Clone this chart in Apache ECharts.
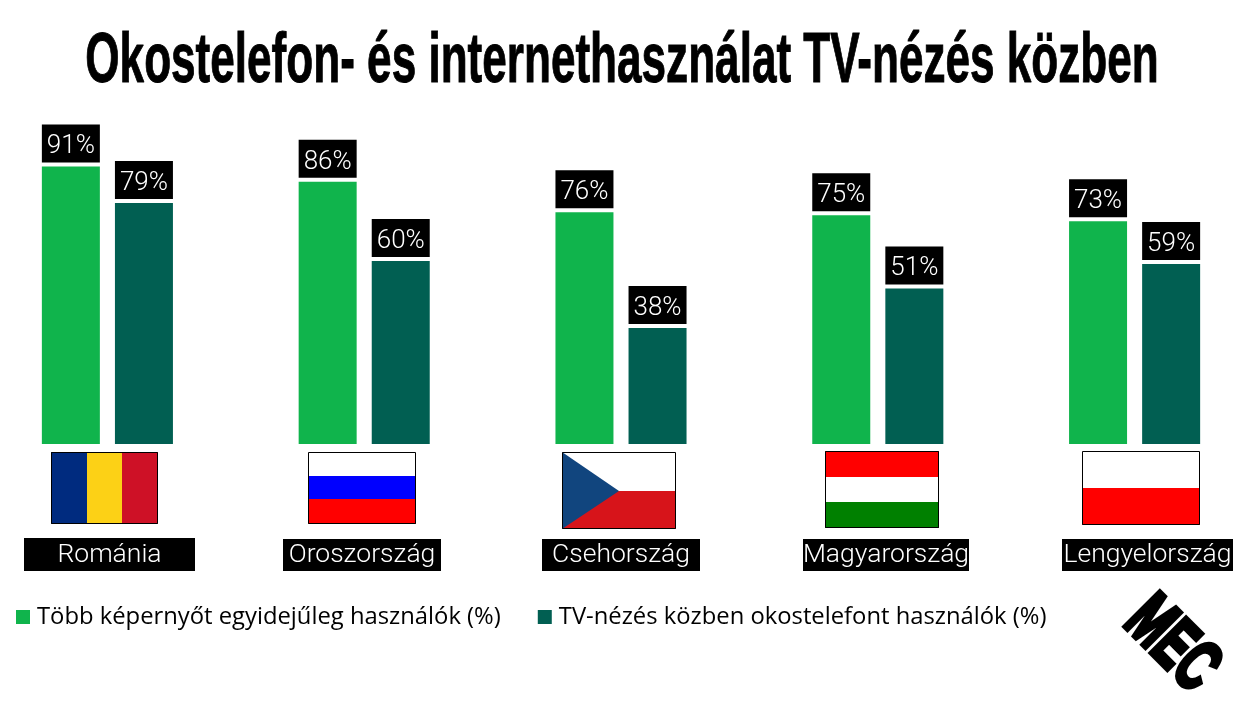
<!DOCTYPE html>
<html>
<head>
<meta charset="utf-8">
<title>Okostelefon- és internethasználat TV-nézés közben</title>
<script src="https://cdn.jsdelivr.net/npm/echarts@6/dist/echarts.min.js"></script>
<style>
  html, body { margin: 0; padding: 0; background: #fff; }
  #chart { width: 1247px; height: 705px; }
</style>
</head>
<body>
<div id="chart"></div>
<script>
const titleText = 'Okostelefon- és internethasználat TV-nézés közben'
const countries = ['Románia', 'Oroszország', 'Csehország', 'Magyarország', 'Lengyelország']
const multiScreen = [91, 86, 76, 75, 73]
const smartphone = [79, 60, 38, 51, 59]
const seriesNames = ['Több képernyőt egyidejűleg használók (%)', 'TV-nézés közben okostelefont használók (%)']
const logoText = 'MEC'

const GREEN = '#10b44c'
const TEAL = '#015f52'
const FONT = 'Roboto, sans-serif'

function rect (x1, y1, x2, y2, fill) {
  return { type: 'rect', silent: true, shape: { x: x1, y: y1, width: x2 - x1, height: y2 - y1 }, style: { fill: fill } }
}

function frame (x1, y1, x2, y2) {
  return { type: 'rect', silent: true, shape: { x: x1 + 0.5, y: y1 + 0.5, width: x2 - x1 - 1, height: y2 - y1 - 1 }, style: { fill: 'none', stroke: '#000', lineWidth: 1 } }
}

function flags () {
  return [
    // romania
    rect(51, 452, 87, 524, '#002b7f'),
    rect(87, 452, 122, 524, '#fcd116'),
    rect(122, 452, 158, 524, '#ce1126'),
    frame(51, 452, 158, 524),
    // russia
    rect(308, 452, 416, 476, '#fff'),
    rect(308, 476, 416, 499, '#0000ff'),
    rect(308, 499, 416, 524, '#ff0000'),
    frame(308, 452, 416, 524),
    // czech
    rect(562, 452, 676, 491, '#fff'),
    rect(562, 491, 676, 529, '#d7141a'),
    { type: 'polygon', silent: true, shape: { points: [[562, 452], [619, 491], [562, 529]] }, style: { fill: '#11457e' } },
    frame(562, 452, 676, 529),
    // hungary
    rect(825, 451, 939, 477, '#ff0000'),
    rect(825, 477, 939, 502, '#fff'),
    rect(825, 502, 939, 528, '#008000'),
    frame(825, 451, 939, 528),
    // poland
    rect(1082, 451, 1200, 488, '#fff'),
    rect(1082, 488, 1200, 525, '#ff0000'),
    frame(1082, 451, 1200, 525)
  ]
}

function countryLabels () {
  const boxes = [[24, 195, 538], [283, 441, 539], [542, 700, 539], [803, 969, 539], [1062, 1233, 539]]
  const out = []
  countries.forEach((name, i) => {
    const b = boxes[i]
    out.push(rect(b[0], b[2], b[1], 571, '#000'))
    out.push({
      type: 'text',
      silent: true,
      x: (b[0] + b[1]) / 2,
      y: 555,
      style: { text: name, x: 0, y: 0, align: 'center', verticalAlign: 'middle', fill: '#fff', font: '300 26.5px ' + FONT }
    })
  })
  return out
}

const chart = echarts.init(document.getElementById('chart'), null, { renderer: 'canvas' })

chart.setOption({
  backgroundColor: '#fff',
  animation: false,
  legend: {
    left: 16,
    top: 605,
    padding: 0,
    itemWidth: 14,
    itemHeight: 14,
    itemGap: 37,
    icon: 'rect',
    textStyle: { fontFamily: '"Open Sans", sans-serif', fontSize: 23.8, color: '#000', padding: [0, 0, 0, 2] },
    data: seriesNames
  },
  grid: { left: -21, top: 139, width: 1284, height: 305, outerBoundsMode: 'none' },
  xAxis: {
    type: 'category',
    data: countries,
    axisLine: { show: false },
    axisTick: { show: false },
    axisLabel: { show: false }
  },
  yAxis: {
    type: 'value',
    min: 0,
    max: 100,
    show: false
  },
  series: [multiScreen, smartphone].map((values, i) => ({
    name: seriesNames[i],
    type: 'bar',
    data: values,
    barWidth: 58,
    barGap: '26%',
    itemStyle: { color: i === 0 ? GREEN : TEAL },
    label: {
      show: true,
      position: 'top',
      distance: 4,
      formatter: '{c}%',
      color: '#fff',
      backgroundColor: '#000',
      width: 58,
      height: 31,
      lineHeight: 31,
      padding: [7, 0, 0, 0],
      align: 'center',
      fontFamily: FONT,
      fontWeight: 300,
      fontSize: 26
    }
  })),
  graphic: [
    {
      type: 'text',
      silent: true,
      x: 622,
      y: 63,
      scaleX: 0.63,
      style: {
        text: titleText,
        x: 0,
        y: 0,
        align: 'center',
        verticalAlign: 'middle',
        fill: '#000',
        stroke: '#000',
        lineWidth: 1,
        font: 'bold 70px "Liberation Sans Narrow", sans-serif'
      }
    },
    {
      type: 'text',
      silent: true,
      x: 1171,
      y: 645,
      rotation: -Math.PI / 4,
      scaleX: 0.62,
      style: {
        text: logoText,
        x: 0,
        y: 0,
        align: 'center',
        verticalAlign: 'middle',
        fill: '#000',
        stroke: '#000',
        lineWidth: 5,
        font: 'bold 72px "Liberation Sans Narrow", sans-serif'
      }
    }
  ].concat(flags(), countryLabels())
})
</script>
</body>
</html>
